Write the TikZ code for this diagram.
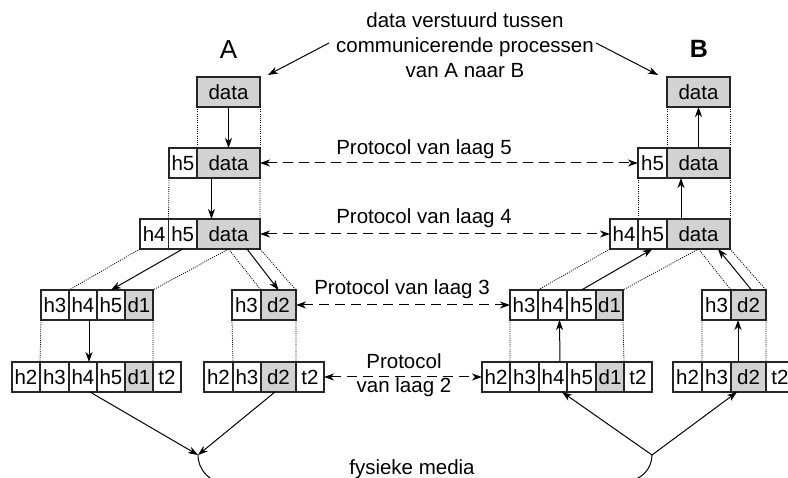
\documentclass[tikz,border=0pt]{standalone}
\usepackage{fontspec}
\setmainfont{Liberation Sans}
\usetikzlibrary{arrows.meta,calc}
\tikzset{
 cellw/.style={draw=black!85, line width=1.2pt, fill=white, inner sep=0pt, outer sep=0pt, minimum height=30pt, font=\fontsize{20.5}{24}\selectfont},
 cellg/.style={cellw, fill=gray!35},
 arr/.style={line width=1pt, -{Stealth[length=10pt,width=7pt,inset=3pt]}},
 darr/.style={line width=1pt, dash pattern=on 10pt off 6pt, {Stealth[length=10pt,width=7pt,inset=3pt]}-{Stealth[length=10pt,width=7pt,inset=3pt]}},
 dots/.style={line width=0.8pt, dash pattern=on 1pt off 1.2pt},
 lbl/.style={font=\fontsize{20.5}{24}\selectfont, inner sep=0pt}
}
\newcommand\cellbox[6]{\node[#6, minimum width={(#3-#2)*1pt}] (#1) at ({(#2+#3)/2},#4) {#5};}
\begin{document}
\begin{tikzpicture}[x=1pt,y=-1pt]
\useasboundingbox (0,0) rectangle (788,478);
% ---- A side
\cellbox{A1}{197}{260}{92}{data}{cellg}
\cellbox{A5h}{169}{197}{163}{h5}{cellw}
\cellbox{A5d}{197}{260}{163}{data}{cellg}
\cellbox{A4h4}{140}{168.5}{234}{h4}{cellw}
\cellbox{A4h5}{168.5}{197}{234}{h5}{cellw}
\cellbox{A4d}{197}{260}{234}{data}{cellg}
\cellbox{A3h3}{41}{69}{305}{h3}{cellw}
\cellbox{A3h4}{69}{97}{305}{h4}{cellw}
\cellbox{A3h5}{97}{125}{305}{h5}{cellw}
\cellbox{A3d1}{125}{153}{305}{d1}{cellg}
\cellbox{A3xh3}{232}{261}{305}{h3}{cellw}
\cellbox{A3xd2}{261}{296}{305}{d2}{cellg}
\cellbox{A2h2}{12}{40}{377}{h2}{cellw}
\cellbox{A2h3}{40}{69}{377}{h3}{cellw}
\cellbox{A2h4}{69}{97}{377}{h4}{cellw}
\cellbox{A2h5}{97}{125}{377}{h5}{cellw}
\cellbox{A2d1}{125}{153}{377}{d1}{cellg}
\cellbox{A2t2}{153}{181}{377}{t2}{cellw}
\cellbox{A2xh2}{204}{233}{377}{h2}{cellw}
\cellbox{A2xh3}{233}{261}{377}{h3}{cellw}
\cellbox{A2xd2}{261}{296}{377}{d2}{cellg}
\cellbox{A2xt2}{296}{324}{377}{t2}{cellw}
% ---- B side
\cellbox{B1}{667}{730}{92}{data}{cellg}
\cellbox{B5h}{638}{667}{163}{h5}{cellw}
\cellbox{B5d}{667}{730}{163}{data}{cellg}
\cellbox{B4h4}{610}{638}{234}{h4}{cellw}
\cellbox{B4h5}{638}{667}{234}{h5}{cellw}
\cellbox{B4d}{667}{730}{234}{data}{cellg}
\cellbox{B3h3}{510}{538}{305}{h3}{cellw}
\cellbox{B3h4}{538}{567}{305}{h4}{cellw}
\cellbox{B3h5}{567}{596}{305}{h5}{cellw}
\cellbox{B3d1}{596}{623}{305}{d1}{cellg}
\cellbox{B3xh3}{702}{731}{305}{h3}{cellw}
\cellbox{B3xd2}{731}{766}{305}{d2}{cellg}
\cellbox{B2h2}{482}{510}{377}{h2}{cellw}
\cellbox{B2h3}{510}{539}{377}{h3}{cellw}
\cellbox{B2h4}{539}{567}{377}{h4}{cellw}
\cellbox{B2h5}{567}{596}{377}{h5}{cellw}
\cellbox{B2d1}{596}{624}{377}{d1}{cellg}
\cellbox{B2t2}{624}{652}{377}{t2}{cellw}
\cellbox{B2xh2}{673}{702}{377}{h2}{cellw}
\cellbox{B2xh3}{702}{731}{377}{h3}{cellw}
\cellbox{B2xd2}{731}{766}{377}{d2}{cellg}
\cellbox{B2xt2}{766}{794}{377}{t2}{cellw}
% ---- dotted guides
\draw[dots] (A1.south west) -- (A5d.north west) (A1.south east) -- (A5d.north east);
\draw[dots] (A5h.south west) -- (A4h5.north west) (A5d.south east) -- (A4d.north east);
\draw[dots] (A4h4.south west) -- (A3h4.north west) (A4d.south) -- (A3d1.north east) (A4d.south) -- (A3xd2.north west) (A4d.south east) -- (A3xd2.north east);
\draw[dots] (A3h3.south west) -- (A2h3.north west) (A3d1.south east) -- (A2d1.north east) (A3xh3.south west) -- (A2xh3.north west) (A3xd2.south east) -- (A2xd2.north east);
\draw[dots] (B1.south west) -- (B5d.north west) (B1.south east) -- (B5d.north east);
\draw[dots] (B5h.south west) -- (B4h5.north west) (B5d.south east) -- (B4d.north east);
\draw[dots] (B4h4.south west) -- (B3h4.north west) (B4d.south) -- (B3d1.north east) (B4d.south) -- (B3xd2.north west) (B4d.south east) -- (B3xd2.north east);
\draw[dots] (B3h3.south west) -- (B2h3.north west) (B3d1.south east) -- (B2d1.north east) (B3xh3.south west) -- (B2xh3.north west) (B3xd2.south east) -- (B2xd2.north east);
% ---- solid arrows A
\draw[arr] (A1.south) -- (A5d.north);
\draw[arr] ([xshift=-17pt]A5d.south) -- ([xshift=-17pt]A4d.north);
\draw[arr] (A4h5.south) -- (A3h5.north);
\draw[arr] ([xshift=-13pt]A4d.south east) -- (A3xd2.north);
\draw[arr] ([xshift=6pt]A3h4.south) -- ([xshift=6pt]A2h4.north);
\coordinate (mA) at (198,455);
\draw[arr] ([xshift=7pt]A2h4.south) -- (mA);
\draw[arr] ([xshift=-3.5pt]A2xd2.south) -- (mA);
\draw[line width=1pt] (mA) arc[start angle=180, end angle=90, radius=28];
% ---- solid arrows B
\draw[arr] (B5d.north) -- (B1.south);
\draw[arr] ([xshift=-17.5pt]B4d.north) -- ([xshift=-17.5pt]B5d.south);
\draw[arr] (B3h5.north) -- (B4h5.south);
\draw[arr] ([xshift=3pt]B3xd2.north) -- ([xshift=-12pt]B4d.south east);
\draw[arr] ([xshift=7pt]B2h4.north) -- ([xshift=7pt]B3h4.south);
\draw[arr] ([xshift=-10.5pt]B2xd2.north) -- ([xshift=-10.5pt]B3xd2.south);
\coordinate (mB) at (652,455);
\draw[arr] (mB) -- ([xshift=9pt]B2h4.south);
\draw[arr] (mB) -- ([xshift=-11.5pt]B2xd2.south);
\draw[line width=1pt] (mB) arc[start angle=0, end angle=90, radius=26];
% ---- protocol arrows
\draw[darr] (A5d.east) -- (B5h.west);
\draw[darr] (A4d.east) -- (B4h4.west);
\draw[darr] (A3xd2.east) -- (B3h3.west);
\draw[darr] (A2xt2.east) -- (B2h2.west);
% ---- labels
\node[inner sep=0pt, font=\fontsize{26}{26}\selectfont] (labA) at (228.5,49.5) {A};
\node[inner sep=0pt, font=\fontsize{25}{25}\selectfont\bfseries] (labB) at (699,49) {B};
\node[lbl, align=center, font=\fontsize{20.5}{25}\selectfont] (toptext) at (465,45.5) {data verstuurd tussen\\communicerende processen\\van A naar B};
\coordinate (tA) at (268,75);
\coordinate (tB) at (658,75);
\draw[arr] ([xshift=-7pt,yshift=2.5pt]toptext.west) -- (tA);
\draw[arr] ([xshift=2pt,yshift=2.5pt]toptext.east) -- (tB);
\node[lbl, anchor=base] (p5) at (424,155) {Protocol van laag 5};
\node[lbl, anchor=base] (p4) at (424,224) {Protocol van laag 4};
\node[lbl, anchor=base] (p3) at (402,295) {Protocol van laag 3};
\node[lbl, align=center] (p2) at (404,375) {Protocol\\van laag 2};
\node[lbl, anchor=base] (media) at (412,475) {fysieke media};
\end{tikzpicture}
\end{document}
